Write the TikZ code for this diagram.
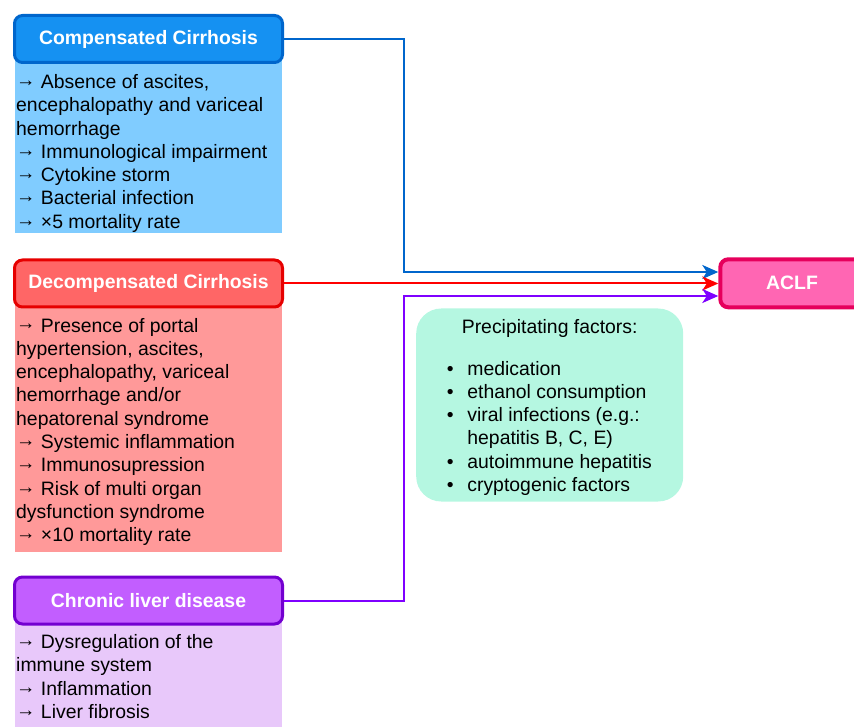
\documentclass[tikz,border=0pt]{standalone}
\usepackage{fontspec}
\setmainfont{Liberation Sans}
\usetikzlibrary{arrows.meta}
\definecolor{bluefill}{HTML}{1591F2}
\definecolor{bluestroke}{HTML}{0066CC}
\definecolor{bluebody}{HTML}{80CCFF}
\definecolor{redfill}{HTML}{FF6666}
\definecolor{redstroke}{HTML}{E60000}
\definecolor{redbody}{HTML}{FF9999}
\definecolor{purfill}{HTML}{C25EFF}
\definecolor{purstroke}{HTML}{7300D0}
\definecolor{purbody}{HTML}{E8C8FA}
\definecolor{aclffill}{HTML}{FF66B3}
\definecolor{aclfstroke}{HTML}{E6005C}
\definecolor{greenfill}{HTML}{B5F7E1}
\definecolor{arrblue}{HTML}{0066CC}
\definecolor{arrred}{HTML}{FF0000}
\definecolor{arrpur}{HTML}{7F00FF}
\newcommand\myarr{\raisebox{2pt}{→}}
\begin{document}
\begin{tikzpicture}[x=1pt,y=-1pt,
  titlebox/.style={draw, line width=3pt, rounded corners=8pt, minimum width=268pt,
    minimum height=47pt, inner sep=0pt, text=white,
    font=\bfseries\fontsize{19.4}{23.3}\selectfont},
  bodytext/.style={anchor=base west, inner sep=0pt,
    font=\fontsize{19.4}{23.3}\selectfont},
  conn/.style={line width=2pt, -{Stealth[length=16pt,width=14pt,inset=4.5pt]}}
]
\useasboundingbox (0,0) rectangle (854,727);
\clip (0,0) rectangle (854,727);

% body backgrounds
\fill[bluebody] (15,60) rectangle (282,233);
\fill[redbody] (15,300) rectangle (282,552);
\fill[purbody] (15,620) rectangle (282,727);

% titles
\node[titlebox, fill=bluefill, draw=bluestroke] (comp) at (148.5,39) {Compensated Cirrhosis};
\node[titlebox, fill=redfill, draw=redstroke] (dec) at (148.5,283.5) {Decompensated Cirrhosis};
\node[titlebox, fill=purfill, draw=purstroke] (chr) at (148.5,600.5) {Chronic liver disease};

% body texts
\node[bodytext] (compbody) at (16,88.5) {\begin{tabular}[t]{@{}l@{}}\myarr{} Absence of ascites,\\encephalopathy and variceal\\hemorrhage\\\myarr{} Immunological impairment\\\myarr{} Cytokine storm\\\myarr{} Bacterial infection\\\myarr{} ×5 mortality rate\end{tabular}};
\node[bodytext] (decbody) at (16,332) {\begin{tabular}[t]{@{}l@{}}\myarr{} Presence of portal\\hypertension, ascites,\\encephalopathy, variceal\\hemorrhage and/or\\hepatorenal syndrome\\\myarr{} Systemic inflammation\\\myarr{} Immunosupression\\\myarr{} Risk of multi organ\\dysfunction syndrome\\\myarr{} ×10 mortality rate\end{tabular}};
\node[bodytext] (chrbody) at (16,648.5) {\begin{tabular}[t]{@{}l@{}}\myarr{} Dysregulation of the\\immune system\\\myarr{} Inflammation\\\myarr{} Liver fibrosis\end{tabular}};

% ACLF
\node[draw=aclfstroke, fill=aclffill, line width=4pt, rounded corners=8pt,
  minimum width=143.4pt, minimum height=48pt, inner sep=0pt, text=white,
  font=\bfseries\fontsize{19.4}{23.3}\selectfont] (aclf) at (792,283.3) {ACLF};

% precipitating factors
\node[fill=greenfill, rounded corners=25pt, minimum width=267pt, minimum height=193pt,
  inner sep=0pt] (pf) at (549.7,405) {};
\node[anchor=base, inner sep=0pt, font=\fontsize{19.4}{23.3}\selectfont] (pfhead) at (549.7,333.3) {Precipitating factors:};
\node[bodytext] (pflist) at (446.6,375) {\begin{tabular}[t]{@{}l@{\hspace{13.8pt}}l@{}}•&medication\\•&ethanol consumption\\•&viral infections (e.g.:\\&hepatitis B, C, E)\\•&autoimmune hepatitis\\•&cryptogenic factors\end{tabular}};

% connectors
\coordinate (bendx) at (404,0);
\coordinate (ab) at ([yshift=11.3pt]aclf.west);
\coordinate (ap) at ([yshift=-12.7pt]aclf.west);
\draw[conn, draw=arrblue] (comp.east) -| (bendx |- ab) -- (ab);
\draw[conn, draw=arrred] (dec.east) -- (dec.east -| aclf.west);
\draw[conn, draw=arrpur] (chr.east) -| (bendx |- ap) -- (ap);
\end{tikzpicture}
\end{document}
